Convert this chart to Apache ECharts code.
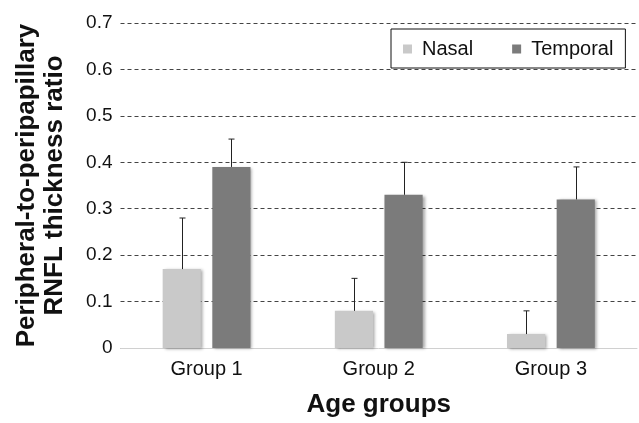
<!DOCTYPE html>
<html>
<head>
<meta charset="utf-8">
<script src="https://cdn.jsdelivr.net/npm/echarts@6/dist/echarts.min.js"></script>
<style>
html,body{margin:0;padding:0;background:#fff;}
#chart{width:639px;height:423px;}
</style>
</head>
<body>
<div id="chart"></div>
<script>
var categories = ['Group 1', 'Group 2', 'Group 3'];
var nasal = [0.17, 0.08, 0.03];
var temporal = [0.39, 0.33, 0.32];
var nasalSD = [0.11, 0.07, 0.05];
var temporalSD = [0.06, 0.07, 0.07];
var yTicks = [0, 0.1, 0.2, 0.3, 0.4, 0.5, 0.6, 0.7];

var FONT = "'Liberation Sans', Arial, Helvetica, sans-serif";
var CAT_GAP = 0.49, BAR_GAP = 0.30;

function errorSeries(name, values, sds, sign) {
  return {
    type: 'custom',
    name: name + ' SD',
    z: 5,
    silent: true,
    data: values.map(function (v, i) { return [i, v, v + sds[i]]; }),
    renderItem: function (params, api) {
      var band = api.size([1, 0])[0];
      var bw = band * (1 - CAT_GAP) / (2 + BAR_GAP);
      var off = sign * bw * (1 + BAR_GAP) / 2;
      var p0 = api.coord([api.value(0), api.value(1)]);
      var p1 = api.coord([api.value(0), api.value(2)]);
      var x = Math.round(p0[0] + off) + 0.5;
      var style = { stroke: '#222', lineWidth: 1 };
      return {
        type: 'group',
        children: [
          { type: 'line', shape: { x1: x, y1: p0[1], x2: x, y2: p1[1] }, style: style },
          { type: 'line', shape: { x1: x - 3, y1: p1[1], x2: x + 3, y2: p1[1] }, style: style }
        ]
      };
    }
  };
}

var chart = echarts.init(document.getElementById('chart'), null, { renderer: 'canvas' });
chart.setOption({
  animation: false,
  backgroundColor: '#fff',
  textStyle: { fontFamily: FONT },
  grid: { left: 120.5, right: 2, top: 23, bottom: 68, containLabel: false },
  legend: {
    data: ['Nasal', 'Temporal'],
    left: 391, top: 29,
    orient: 'horizontal',
    itemWidth: 9, itemHeight: 9, itemGap: 39,
    padding: [10, 12, 9, 12],
    borderColor: '#111', borderWidth: 1,
    icon: 'rect',
    textStyle: { fontSize: 20, lineHeight: 20, color: '#111', fontFamily: FONT, padding: [0, 0, 0, 5] }
  },
  xAxis: {
    type: 'category',
    data: categories,
    name: 'Age groups',
    nameLocation: 'middle',
    nameGap: 44,
    nameTextStyle: { fontSize: 26, fontWeight: 'bold', color: '#111', fontFamily: FONT },
    axisLine: { show: true, lineStyle: { color: '#d0d0d0', width: 1 } },
    axisTick: { show: false },
    axisLabel: { fontSize: 20, color: '#111', margin: 11, fontFamily: FONT },
    splitLine: { show: false }
  },
  yAxis: {
    type: 'value',
    min: 0, max: 0.7, interval: 0.1,
    name: 'Peripheral-to-peripapillary\nRNFL thickness ratio',
    nameLocation: 'middle',
    nameGap: 52,
    nameTextStyle: { fontSize: 26, fontWeight: 'bold', color: '#111', lineHeight: 28, fontFamily: FONT },
    axisLine: { show: false },
    axisTick: { show: false },
    axisLabel: {
      fontSize: 19, color: '#111', margin: 8, fontFamily: FONT,
      formatter: function (v) {
        var t = yTicks.find(function (k) { return Math.abs(k - v) < 1e-9; });
        return t === 0 ? '0' : (t !== undefined ? t.toFixed(1) : '');
      }
    },
    splitLine: { show: true, lineStyle: { color: '#444', type: [4, 3], width: 1 } }
  },
  series: [
    {
      name: 'Nasal', type: 'bar', data: nasal,
      barGap: (BAR_GAP * 100) + '%', barCategoryGap: (CAT_GAP * 100) + '%',
      itemStyle: { color: '#c9c9c9', shadowColor: 'rgba(0,0,0,0.35)', shadowBlur: 3, shadowOffsetX: 2, shadowOffsetY: 1 }
    },
    {
      name: 'Temporal', type: 'bar', data: temporal,
      barGap: (BAR_GAP * 100) + '%', barCategoryGap: (CAT_GAP * 100) + '%',
      itemStyle: { color: '#7b7b7b', shadowColor: 'rgba(0,0,0,0.35)', shadowBlur: 3, shadowOffsetX: 2, shadowOffsetY: 1 }
    },
    errorSeries('Nasal', nasal, nasalSD, -1),
    errorSeries('Temporal', temporal, temporalSD, 1)
  ]
});
</script>
</body>
</html>
